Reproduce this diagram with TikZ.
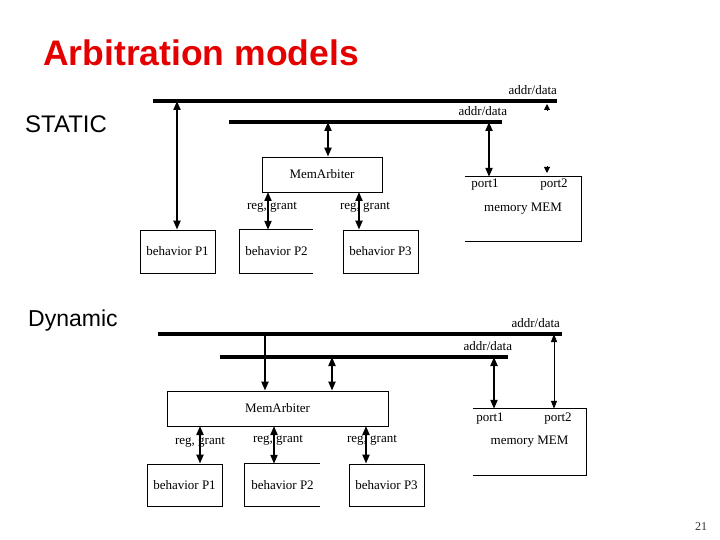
\documentclass[tikz,border=0pt]{standalone}
\usepackage{fontspec}
\setmainfont{Liberation Serif}
\newfontfamily\arialfont{Liberation Sans}
\usetikzlibrary{calc, positioning, arrows.meta}

\begin{document}
\begin{tikzpicture}[x=1pt, y=-1pt,
        bus/.style = {line width=4pt},
        box/.style = {draw, line width=0.8pt, inner sep=0pt, font=\fontsize{13}{13}\selectfont},
        openbox/.style = {inner sep=0pt, font=\fontsize{13}{13}\selectfont},
        lbl/.style = {inner sep=0pt, font=\fontsize{13}{13}\selectfont},
        biarrow/.style = {line width=2pt, {Triangle[width=7pt,length=9pt]}-{Triangle[width=7pt,length=9pt]}},
        onearrow/.style = {line width=2pt, -{Triangle[width=7pt,length=9pt]}},
        thinarrow/.style = {line width=1pt, {Triangle[width=6pt,length=8pt]}-{Triangle[width=6pt,length=8pt]}},
        tip/.style = {line width=1pt, -{Triangle[width=6pt,length=6pt]}}]
        \useasboundingbox (0,0) rectangle (720,540);
        \node[anchor=base west, inner sep=0pt, text=red!90!black, font=\arialfont\bfseries\fontsize{35.5}{35.5}\selectfont] (title) at (43,66) {Arbitration models};
        \node[anchor=base west, inner sep=0pt, font=\arialfont\fontsize{24}{24}\selectfont] (static) at (25,133) {STATIC};
        \node[anchor=base west, inner sep=0pt, font=\arialfont\fontsize{23}{23}\selectfont] (dynamic) at (28,326) {Dynamic};
        \node[inner sep=0pt, text=black!80, font=\fontsize{12}{12}\selectfont] (page) at (701,527) {21};

        % static
        \coordinate (bus1Sa) at (153,101);
        \coordinate (bus1Sb) at (557,101);
        \coordinate (bus2Sa) at (229,122);
        \coordinate (bus2Sb) at (502,122);
        \draw[bus] (bus1Sa) -- (bus1Sb) node[lbl, pos=0.94, above=4pt] (ad1S) {addr/data};
        \draw[bus] (bus2Sa) -- (bus2Sb) node[lbl, pos=0.93, above=4pt] (ad2S) {addr/data};
        \node[box, minimum width=120pt, minimum height=35pt] (arbS) at (322,174.5) {MemArbiter};
        \node[box, minimum width=75pt, minimum height=43pt] (p1S) at (177.5,251.5) {behavior P1};
        \node[openbox, minimum width=73pt, minimum height=43pt] (p2S) at (276.5,251.5) {behavior P2};
        \node[box, minimum width=75pt, minimum height=43pt] (p3S) at (380.5,251.5) {behavior P3};
        \node[openbox, minimum width=116pt, minimum height=64pt] (memS) at (523,209) {memory MEM};
        \draw[line width=0.8pt] (p2S.north east) -- (p2S.north west) -- (p2S.south west) -- (p2S.south east);
        \draw[line width=0.8pt] (memS.north west) -- (memS.north east) -- (memS.south east) -- (memS.south west);
        \node[lbl] (pt1S) at (485,185) {port1};
        \node[lbl] (pt2S) at (554,185) {port2};
        \coordinate (tapP1S) at (177,101);
        \coordinate (tapArbS) at (328,122);
        \coordinate (tapMemS) at (489,122);
        \coordinate (tapP2S) at (268,192);
        \coordinate (tapP3S) at (359,192);
        \draw[biarrow] (tapP1S) -- (tapP1S |- p1S.north);
        \draw[biarrow] (tapArbS) -- (tapArbS |- arbS.north);
        \draw[biarrow] (tapMemS) -- (tapMemS |- memS.north);
        \draw[biarrow] (tapP2S) -- (tapP2S |- p2S.north);
        \draw[biarrow] (tapP3S) -- (tapP3S |- p3S.north);
        \node[lbl] (rg2S) at (272,207) {reg, grant};
        \node[lbl] (rg3S) at (365,207) {reg, grant};
        \coordinate (tip2a) at (547,111);
        \coordinate (tip2b) at (547,166);
        \draw[tip] (tip2a) -- ++(0,-7);
        \draw[tip] (tip2b) -- ++(0,7);

        % dynamic
        \coordinate (bus1Da) at (158,334);
        \coordinate (bus1Db) at (562,334);
        \coordinate (bus2Da) at (220,357);
        \coordinate (bus2Db) at (508,357);
        \draw[bus] (bus1Da) -- (bus1Db) node[lbl, pos=0.935, above=4pt] (ad1D) {addr/data};
        \draw[bus] (bus2Da) -- (bus2Db) node[lbl, pos=0.93, above=4pt] (ad2D) {addr/data};
        \node[box, minimum width=221pt, minimum height=35pt] (arbD) at (277.5,408.5) {MemArbiter};
        \node[box, minimum width=75pt, minimum height=42pt] (p1D) at (184.5,485) {behavior P1};
        \node[openbox, minimum width=75pt, minimum height=42pt] (p2D) at (282.5,485) {behavior P2};
        \node[box, minimum width=75pt, minimum height=42pt] (p3D) at (386.5,485) {behavior P3};
        \node[openbox, minimum width=113pt, minimum height=66pt] (memD) at (529.5,442) {memory MEM};
        \draw[line width=0.8pt] (p2D.north east) -- (p2D.north west) -- (p2D.south west) -- (p2D.south east);
        \draw[line width=0.8pt] (memD.north west) -- (memD.north east) -- (memD.south east) -- (memD.south west);
        \node[lbl] (pt1D) at (490,419) {port1};
        \node[lbl] (pt2D) at (558,419) {port2};
        \coordinate (tapArb1D) at (265,334);
        \coordinate (tapArb2D) at (332,357);
        \coordinate (tapMem1D) at (494,357);
        \coordinate (tapMem2D) at (554,334);
        \draw[onearrow] (tapArb1D) -- (tapArb1D |- arbD.north);
        \draw[biarrow] (tapArb2D) -- (tapArb2D |- arbD.north);
        \draw[biarrow] (tapMem1D) -- (tapMem1D |- memD.north);
        \draw[thinarrow] (tapMem2D) -- (tapMem2D |- memD.north);
        \foreach \x/\p in {200/p1D, 274/p2D, 366/p3D}
            \draw[biarrow] (\x,426) -- (\x,426 |- \p.north);
        \node[lbl] (rg1D) at (200,442) {reg, grant};
        \node[lbl] (rg2D) at (278,440) {reg, grant};
        \node[lbl] (rg3D) at (372,440) {reg, grant};
\end{tikzpicture}
\end{document}
